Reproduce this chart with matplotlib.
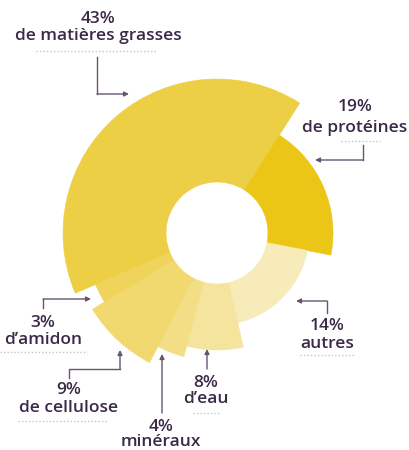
import numpy as np
import matplotlib
matplotlib.use("Agg")
import matplotlib.pyplot as plt

# Slices, clockwise starting with the big "matières grasses" one
labels = ["de matières grasses", "de protéines", "autres", "d’eau",
          "minéraux", "de cellulose", "d’amidon"]
percents = [43, 19, 14, 8, 4, 9, 3]
# angular span (degrees) and outer radius
spans = [145.5, 68.5, 66, 28, 12.5, 31, 8.5]
radius = [154, 116, 92, 117, 128, 146, 132]
colors = ["#EDCF45", "#ECC616", "#F6EBB9", "#F5E49D",
          "#F3DE86", "#F1D86F", "#EFD35B"]

hole = 51
start = 247  # degrees clockwise from north where the first slice begins
text_color = "#3A2A48"
line_color = "#66566F"
dot_color = "#C9C2CC"
font = "Open Sans"

W, H = 410, 450
cx, cy = 217, 233
rmax = 160

fig = plt.figure(figsize=(W / 100, H / 100), dpi=100)

# Polar axes placed so that its centre sits where the donut centre is
ax = fig.add_axes([(cx - rmax) / W, (H - cy - rmax) / H, 2 * rmax / W, 2 * rmax / H],
                  projection="polar")
ax.set_theta_zero_location("N")
ax.set_theta_direction(-1)
ax.set_ylim(0, rmax)
ax.axis("off")

edges = start + np.concatenate([[0], np.cumsum(spans)[:-1]])
centers = np.deg2rad(edges + np.array(spans) / 2)
ax.bar(centers, np.array(radius) - hole, width=np.deg2rad(spans), bottom=hole,
       color=colors, edgecolor=colors, linewidth=0.4, align="center")

# Overlay axes in pixel coordinates for the labels and arrows
ov = fig.add_axes([0, 0, 1, 1])
ov.set_xlim(0, W)
ov.set_ylim(H, 0)
ov.axis("off")

# (text centre x, pct y, label y, dotted line (x0, x1, y) or None, arrow path)
callouts = [
    (98, 19, 36, (36, 157, 51), [(97, 57), (97, 94), (129, 94)]),
    (355, 107, 128, (341, 380, 141), [(363, 145), (363, 160), (315, 160)]),
    (327, 326, 344, (300, 354, 355), [(327, 313), (327, 301), (296, 301)]),
    (206, 383, 399, (193, 220, 413), [(207, 369), (207, 349)]),
    (161, 427, 442, None, [(162, 413), (162, 354)]),
    (69, 390, 408, (18, 107, 421), [(69, 378), (69, 369), (120, 369), (120, 350)]),
    (43, 323, 340, (0, 87, 352), [(43, 308), (43, 299), (91, 299)]),
]

for (tx, py, ly, dots, path), pct, lab in zip(callouts, percents, labels):
    ov.text(tx, py, f"{pct}%", ha="center", va="center", fontsize=12.5,
            family=font, fontweight="semibold", color=text_color)
    ov.text(tx, ly, lab, ha="center", va="center", fontsize=12.5,
            family=font, fontweight="semibold", color=text_color)
    if dots is not None:
        ov.plot([dots[0], dots[1]], [dots[2], dots[2]], color=dot_color,
                lw=1, linestyle=(0, (1, 1.5)))
    xs, ys = zip(*path)
    ov.plot(xs[:-1], ys[:-1], color=line_color, lw=1)
    ov.annotate("", xy=path[-1], xytext=path[-2],
                arrowprops=dict(arrowstyle="-|>", color=line_color, lw=1,
                                mutation_scale=7, shrinkA=0, shrinkB=0))

plt.savefig("out.png", dpi=100)
plt.close()
